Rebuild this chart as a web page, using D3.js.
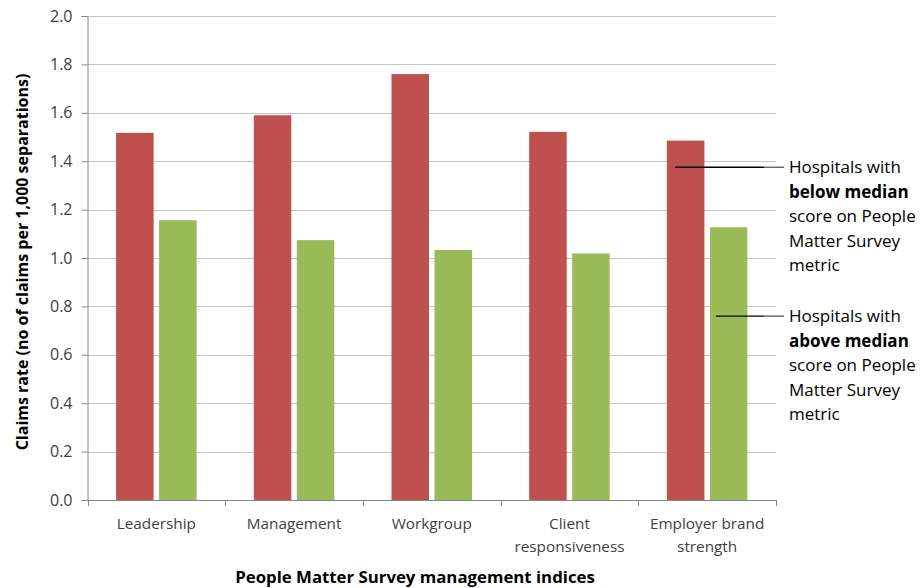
<!DOCTYPE html>
<html>
<head>
<meta charset="utf-8">
<script src="https://cdn.jsdelivr.net/npm/d3@7"></script>
<style>
  html, body { margin: 0; padding: 0; background: #fff; }
  svg { display: block; font-family: "Open Sans", "Liberation Sans", sans-serif; }
</style>
</head>
<body>
<svg id="chart" width="920" height="588"></svg>
<script>
// People Matter Survey indices and claims rates per hospital group
const categories = [
  ["Leadership"],
  ["Management"],
  ["Workgroup"],
  ["Client", "responsiveness"],
  ["Employer brand", "strength"]
];
const belowMedian = [1.517, 1.590, 1.760, 1.521, 1.485];
const aboveMedian = [1.156, 1.074, 1.033, 1.019, 1.127];
const yTicks = [0.0, 0.2, 0.4, 0.6, 0.8, 1.0, 1.2, 1.4, 1.6, 1.8, 2.0];

const seriesNames = ["below", "above"];
const colors = { below: "#C0504D", above: "#9BBB59" };

const svg = d3.select("#chart");
const plot = { left: 87.5, right: 776, top: 16, bottom: 500 };

const keys = categories.map((c, i) => i);
const x = d3.scaleBand().domain(keys).range([plot.left, plot.right]).paddingInner(0).paddingOuter(0);
const xInner = d3.scaleBand().domain(seriesNames).range([0, x.bandwidth()]).paddingInner(0.128).paddingOuter(0.665);
const y = d3.scaleLinear().domain([0, 2]).range([plot.bottom, plot.top]);

// horizontal gridlines
svg.append("g")
  .selectAll("line")
  .data(yTicks.filter(t => t > 0))
  .join("line")
  .attr("x1", plot.left).attr("x2", plot.right)
  .attr("y1", d => Math.round(y(d)) + 0.5).attr("y2", d => Math.round(y(d)) + 0.5)
  .attr("stroke", "#c4c4c4").attr("stroke-width", 1);

// bars
const rows = keys.map(i => ({ i, below: belowMedian[i], above: aboveMedian[i] }));
const groups = svg.append("g").selectAll("g")
  .data(rows).join("g")
  .attr("transform", d => `translate(${x(d.i)},0)`);
groups.selectAll("rect")
  .data(d => seriesNames.map(k => ({ k, v: d[k] })))
  .join("rect")
  .attr("x", d => xInner(d.k))
  .attr("width", xInner.bandwidth())
  .attr("y", d => y(d.v))
  .attr("height", d => y(0) - y(d.v))
  .attr("fill", d => colors[d.k]);

// y axis
const yAxis = d3.axisLeft(y).tickValues(yTicks).tickFormat(d3.format(".1f")).tickSize(6).tickPadding(9);
const gy = svg.append("g").attr("transform", `translate(${plot.left},0)`).call(yAxis);
gy.select(".domain").attr("stroke", "#868686");
gy.selectAll(".tick line").attr("stroke", "#868686");
gy.selectAll(".tick text").attr("fill", "#404040").attr("font-size", 16).attr("font-family", "Open Sans");

// x axis with ticks at band boundaries
const gx = svg.append("g").attr("transform", `translate(0,${plot.bottom})`);
gx.append("line").attr("x1", plot.left).attr("x2", plot.right).attr("y1", 0.5).attr("y2", 0.5).attr("stroke", "#868686");
const edges = keys.map(i => x(i)).concat([plot.right]);
gx.selectAll("line.tk").data(edges).join("line").attr("class", "tk")
  .attr("x1", d => Math.round(d) + 0.5).attr("x2", d => Math.round(d) + 0.5)
  .attr("y1", 0).attr("y2", 6).attr("stroke", "#868686");

// category labels
const labels = gx.selectAll("text.cat").data(rows).join("text").attr("class", "cat")
  .attr("text-anchor", "middle")
  .attr("fill", "#404040")
  .attr("font-size", 15.3)
  .attr("transform", d => `translate(${x(d.i) + x.bandwidth() / 2},0)`);
labels.selectAll("tspan").data(d => categories[d.i]).join("tspan")
  .attr("x", 0).attr("y", (d, j) => 29 + j * 23).text(d => d);

// axis titles
svg.append("text")
  .attr("transform", `translate(28,${(plot.top + plot.bottom) / 2 + 4}) rotate(-90)`)
  .attr("text-anchor", "middle")
  .attr("font-weight", "bold").attr("font-size", 16).attr("fill", "#000")
  .text("Claims rate (no of claims per 1,000 separations)");
svg.append("text")
  .attr("x", 415).attr("y", 583)
  .attr("text-anchor", "middle")
  .attr("font-weight", "bold").attr("font-size", 16.8).attr("fill", "#000")
  .text("People Matter Survey management indices");

// series annotations with leader lines into the last group's bars
const notes = [
  { k: "below", v: 1.375, lines: [["Hospitals with", false], ["below median", true], ["score on People", false], ["Matter Survey", false], ["metric", false]] },
  { k: "above", v: 0.76, lines: [["Hospitals with", false], ["above median", true], ["score on People", false], ["Matter Survey", false], ["metric", false]] }
];
const last = keys[keys.length - 1];
const noteX = 789;
notes.forEach(n => {
  const yy = y(n.v);
  const x0 = x(last) + xInner(n.k) + (n.k === "below" ? 8 : 6);
  svg.append("line").attr("x1", x0).attr("x2", 764).attr("y1", yy).attr("y2", yy)
    .attr("stroke", "#000").attr("stroke-width", 1.3);
  svg.append("line").attr("x1", 764).attr("x2", 784).attr("y1", yy).attr("y2", yy)
    .attr("stroke", "#555").attr("stroke-width", 1.3);
  const t = svg.append("text").attr("fill", "#000").attr("font-size", 17);
  n.lines.forEach((ln, j) => {
    t.append("tspan").attr("x", noteX).attr("y", yy + 6 + j * 24.5)
      .attr("font-weight", ln[1] ? "bold" : "normal").text(ln[0]);
  });
});
</script>
</body>
</html>
